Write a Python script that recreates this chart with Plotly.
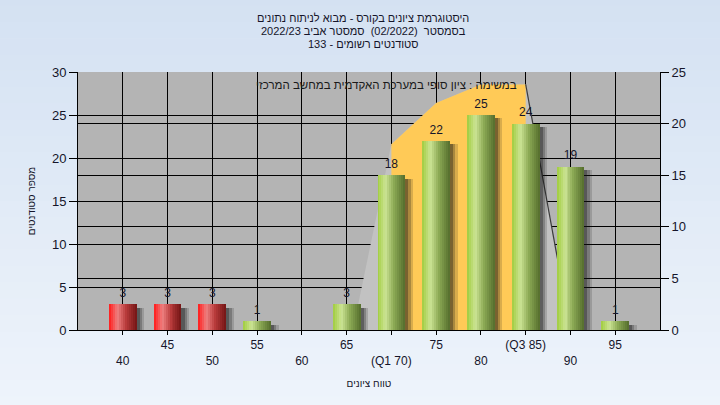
import plotly.graph_objects as go

# ---------------- data ----------------
scores = [40, 45, 50, 55, 60, 65, 70, 75, 80, 85, 90, 95]
tick_labels = ["40", "45", "50", "55", "60", "65", "(Q1 70)", "75", "80", "(Q3 85)", "90", "95"]
counts = [3, 3, 3, 1, 0, 3, 18, 22, 25, 24, 19, 1]
pass_grade = 55
q1, q3 = 70, 85
curve_x = [65.7, 70, 75, 80, 85, 90]
curve_y = [0, 18, 22, 23.8, 23.8, 0]

title_lines = [
    "היסטוגרמת ציונים בקורס - מבוא לניתוח נתונים",
    "בסמסטר  (02/2022)  סמסטר אביב 2022/23",
    "סטודנטים רשומים - 133",
]
note_text = "במשימה : ציון סופי במערכת האקדמית במחשב המרכזי"
x_title = "טווח ציונים"
y_title = "מספר סטודנטים"

# ---------------- styling ----------------
FONT = "Liberation Sans, Arial, sans-serif"
TXT = "#15152a"
BAR_W = 3.1
N_SLICES = 14

red_stops = [(0.0, (255, 25, 25)), (0.3, (238, 128, 128)), (0.6, (185, 60, 60)), (1.0, (115, 20, 20))]
green_stops = [(0.0, (160, 204, 62)), (0.3, (204, 228, 148)), (0.6, (140, 170, 85)), (1.0, (84, 108, 44))]


def grad(stops, t):
    for (t0, c0), (t1, c1) in zip(stops[:-1], stops[1:]):
        if t0 <= t <= t1:
            f = (t - t0) / (t1 - t0) if t1 > t0 else 0
            c = [round(a + (b - a) * f) for a, b in zip(c0, c1)]
            return "rgb(%d,%d,%d)" % tuple(c)
    return "rgb(%d,%d,%d)" % stops[-1][1]


fig = go.Figure()

# overlay polygons (main y axis = right side, 0-25)
fig.add_trace(go.Scatter(x=curve_x, y=curve_y, fill="toself", fillcolor="#c2c2c2",
                         mode="lines", line=dict(width=0), hoverinfo="skip", yaxis="y"))
iqr_x = [x for x in curve_x if q1 <= x <= q3]
iqr_y = [y for x, y in zip(curve_x, curve_y) if q1 <= x <= q3]
fig.add_trace(go.Scatter(x=iqr_x, y=iqr_y, fill="tozeroy", fillcolor="#ffca57",
                         mode="lines", line=dict(width=0), hoverinfo="skip", yaxis="y"))
fig.add_trace(go.Scatter(x=curve_x[-2:], y=curve_y[-2:], mode="lines",
                         line=dict(color="#3c3c3c", width=1.2), hoverinfo="skip", yaxis="y"))

# soft shadows (left axis overlay y2)
for shift, alpha in [(0.85, 0.16), (0.6, 0.24), (0.35, 0.32)]:
    fig.add_trace(go.Bar(x=scores, y=[max(c - 0.4, 0) for c in counts], width=BAR_W,
                         offset=-BAR_W / 2 + shift,
                         marker=dict(color="rgba(20,20,20,%s)" % alpha, line=dict(width=0)),
                         hoverinfo="skip", yaxis="y2"))

# gradient bars via slices
sw = BAR_W / N_SLICES
for i in range(N_SLICES):
    t = (i + 0.5) / N_SLICES
    cols = [grad(red_stops, t) if s < pass_grade else grad(green_stops, t) for s in scores]
    fig.add_trace(go.Bar(x=scores, y=counts, width=sw * 1.03, offset=-BAR_W / 2 + i * sw,
                         marker=dict(color=cols, line=dict(width=0)), hoverinfo="skip", yaxis="y2"))

# value labels
fig.add_trace(go.Scatter(x=scores, y=[c + 0.5 for c in counts], mode="text",
                         text=[str(c) if c > 0 else "" for c in counts],
                         textposition="top center", textfont=dict(family=FONT, size=12, color=TXT),
                         cliponaxis=False, hoverinfo="skip", yaxis="y2"))

# ---------------- background gradient ----------------
shapes = []
nb = 26
y_lo, y_hi = -0.32, 1.32
c_top, c_bot = (212, 225, 242), (238, 244, 251)
for k in range(nb):
    f = k / (nb - 1)
    c = [round(a + (b - a) * f) for a, b in zip(c_top, c_bot)]
    y1 = y_hi - (y_hi - y_lo) * k / nb
    y0 = y_hi - (y_hi - y_lo) * (k + 1) / nb
    shapes.append(dict(type="rect", xref="paper", yref="paper", x0=-0.2, x1=1.2, y0=y0 - 0.002, y1=y1,
                       fillcolor="rgb(%d,%d,%d)" % tuple(c), line=dict(width=0), layer="below"))
shapes.append(dict(type="rect", xref="paper", yref="paper", x0=0, x1=1, y0=0, y1=1,
                   fillcolor="#b4b4b4", line=dict(width=0), layer="below"))

annotations = []
for yy, line in zip([1.209, 1.159, 1.109], title_lines):
    annotations.append(dict(text=line, xref="paper", yref="paper", x=0.49, y=yy, showarrow=False,
                            xanchor="center", yanchor="middle", font=dict(family=FONT, size=11, color=TXT)))
annotations.append(dict(text=note_text, xref="paper", yref="paper", x=0.53, y=0.95, showarrow=False,
                        xanchor="center", yanchor="middle", font=dict(family=FONT, size=11.5, color="#1a1a1a")))

ticktext = [("<br>" + t) if i % 2 == 0 else t for i, t in enumerate(tick_labels)]

fig.update_layout(
    width=720, height=405,
    margin=dict(l=78, r=60, t=72, b=75, autoexpand=False),
    paper_bgcolor="#e2eaf6",
    plot_bgcolor="rgba(0,0,0,0)",
    showlegend=False,
    barmode="overlay",
    bargap=0,
    hovermode=False,
    font=dict(family=FONT, size=12, color=TXT),
    shapes=shapes,
    annotations=annotations,
    xaxis=dict(range=[35, 100], tickmode="array", tickvals=scores, ticktext=ticktext,
               showgrid=True, gridcolor="black", gridwidth=1, zeroline=False,
               showline=True, linecolor="black", linewidth=1, automargin=False,
               ticks="outside", ticklen=4, tickcolor="black",
               tickfont=dict(family=FONT, size=12, color=TXT),
               title=dict(text=x_title, font=dict(family=FONT, size=10, color=TXT), standoff=12)),
    yaxis=dict(range=[0, 25], dtick=5, side="right", showgrid=True, gridcolor="black", gridwidth=1,
               zeroline=False, showline=True, linecolor="black", linewidth=1, automargin=False,
               ticks="outside", ticklen=8, tickcolor="black",
               tickfont=dict(family=FONT, size=13, color=TXT)),
    yaxis2=dict(range=[0, 30], dtick=5, side="left", overlaying="y", showgrid=True, gridcolor="black",
                gridwidth=1, zeroline=False, showline=True, linecolor="black", linewidth=1,
                automargin=False, ticks="outside", ticklen=8, tickcolor="black",
                tickfont=dict(family=FONT, size=13, color=TXT),
                title=dict(text=y_title, font=dict(family=FONT, size=10, color=TXT), standoff=14)),
)

fig.write_html("out.html", config={"displayModeBar": False},
               post_script="document.body.style.margin='0';")
